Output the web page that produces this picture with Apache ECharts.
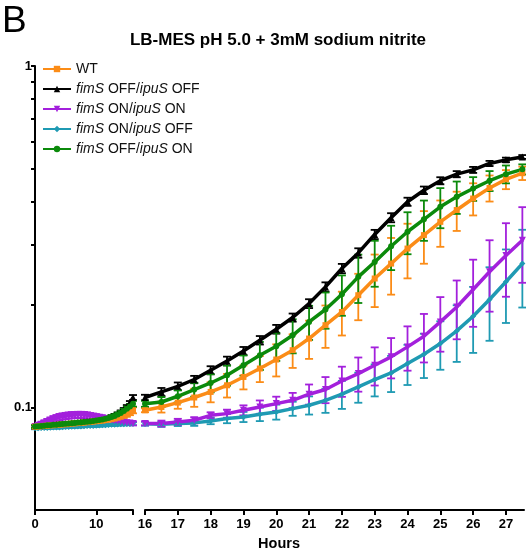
<!DOCTYPE html>
<html>
<head>
<meta charset="utf-8">
<script src="https://cdn.jsdelivr.net/npm/echarts@6/dist/echarts.min.js"></script>
<style>
html, body { margin: 0; padding: 0; background: #fff; }
#chart { width: 526px; height: 551px; }
</style>
</head>
<body>
<div id="chart"></div>
<script>
// growth curves, OD600 on a log axis; x axis broken at 16 h
var earlyHours = [0, 0.5, 1, 1.5, 2, 2.5, 3, 3.5, 4, 4.5, 5, 5.5, 6, 6.5, 7, 7.5, 8, 8.5, 9, 9.5,
    10, 10.5, 11, 11.5, 12, 12.5, 13, 13.5, 14, 14.5, 15, 15.5, 16];
var lateHours = [16, 16.5, 17, 17.5, 18, 18.5, 19, 19.5, 20, 20.5, 21, 21.5, 22, 22.5, 23, 23.5,
    24, 24.5, 25, 25.5, 26, 26.5, 27, 27.5];

var names = ['WT', 'fimS OFF/ipuS OFF', 'fimS ON/ipuS ON', 'fimS ON/ipuS OFF', 'fimS OFF/ipuS ON'];

// WT
var wtEarly = [0.0877, 0.0878, 0.088, 0.0882, 0.0883, 0.0885, 0.0886, 0.0888, 0.0889, 0.0891, 0.0892,
    0.0894, 0.0896, 0.0897, 0.0899, 0.09, 0.0902, 0.0904, 0.0906, 0.0908, 0.091, 0.0912, 0.0914,
    0.0917, 0.092, 0.0923, 0.0927, 0.0932, 0.0938, 0.0945, 0.0954, 0.0966, 0.098];
var wtEarlySd = [0.0008, 0.0008, 0.0008, 0.0008, 0.0008, 0.0008, 0.0008, 0.0008, 0.0008, 0.0008, 0.0008,
    0.0008, 0.0008, 0.0008, 0.0008, 0.0008, 0.0008, 0.0008, 0.0008, 0.0008, 0.0008, 0.0008, 0.0008,
    0.0009, 0.001, 0.001, 0.0011, 0.0012, 0.0013, 0.0014, 0.0016, 0.0018, 0.002];
var wtLate = [0.098, 0.1002, 0.1032, 0.1068, 0.1109, 0.116, 0.1227, 0.1299, 0.138, 0.147, 0.159, 0.174,
    0.1902, 0.213, 0.2384, 0.2636, 0.2918, 0.3195, 0.3494, 0.3784, 0.409, 0.4392, 0.4655, 0.4852];
var wtLateSd = [0.0013, 0.0037, 0.0042, 0.0065, 0.0075, 0.0092, 0.0099, 0.0114, 0.0149, 0.0166, 0.0204,
    0.0247, 0.0279, 0.0331, 0.0418, 0.0498, 0.0532, 0.0561, 0.0542, 0.0498, 0.0442, 0.0385, 0.0299, 0.0219];

// fimS OFF / ipuS OFF
var offOffEarly = [0.0878, 0.088, 0.0881, 0.0883, 0.0885, 0.0887, 0.0888, 0.089, 0.0892, 0.0894, 0.0895,
    0.0897, 0.0899, 0.0901, 0.0903, 0.0905, 0.0907, 0.0909, 0.0911, 0.0914, 0.0917, 0.092, 0.0923,
    0.0927, 0.0932, 0.0938, 0.0946, 0.0956, 0.0968, 0.0983, 0.1002, 0.1028, 0.1068];
var offOffEarlySd = [0.0007, 0.0007, 0.0007, 0.0007, 0.0007, 0.0007, 0.0007, 0.0007, 0.0007, 0.0007, 0.0007,
    0.0007, 0.0007, 0.0007, 0.0007, 0.0007, 0.0007, 0.0007, 0.0007, 0.0007, 0.0007, 0.0008, 0.0008,
    0.0008, 0.0009, 0.0009, 0.001, 0.001, 0.0011, 0.0012, 0.0013, 0.0015, 0.0018];
var offOffLate = [0.1068, 0.1109, 0.1152, 0.1206, 0.1284, 0.1367, 0.1462, 0.1572, 0.1693, 0.1832, 0.2013,
    0.2253, 0.2551, 0.2833, 0.321, 0.3594, 0.4002, 0.4324, 0.4611, 0.482, 0.4962, 0.5182, 0.5309, 0.5413];
var offOffLateSd = [0.002, 0.003, 0.003, 0.003, 0.0035, 0.004, 0.004, 0.0045, 0.005, 0.005, 0.006, 0.007,
    0.008, 0.009, 0.01, 0.011, 0.011, 0.011, 0.011, 0.01, 0.01, 0.009, 0.008, 0.007];

// fimS ON / ipuS ON
var onOnEarly = [0.0879, 0.0885, 0.0892, 0.09, 0.0908, 0.0916, 0.0924, 0.093, 0.0936, 0.094, 0.0943,
    0.0946, 0.0948, 0.0949, 0.095, 0.095, 0.0949, 0.0947, 0.0944, 0.0941, 0.0938, 0.0935, 0.0931,
    0.0927, 0.0923, 0.0919, 0.0915, 0.0911, 0.0907, 0.0904, 0.0901, 0.0899, 0.0897];
var onOnEarlySd = [0.0008, 0.001, 0.0012, 0.0014, 0.0016, 0.0017, 0.0018, 0.0019, 0.002, 0.002, 0.002,
    0.002, 0.002, 0.002, 0.002, 0.002, 0.002, 0.0019, 0.0018, 0.0017, 0.0016, 0.0015, 0.0014,
    0.0013, 0.0012, 0.0011, 0.001, 0.001, 0.001, 0.001, 0.001, 0.001, 0.0012];
var onOnLate = [0.0897, 0.0896, 0.0906, 0.0916, 0.0947, 0.0958, 0.098, 0.1002, 0.1025, 0.1048, 0.1092,
    0.1127, 0.1194, 0.1255, 0.1328, 0.1405, 0.1503, 0.1615, 0.1779, 0.1967, 0.2214, 0.2496, 0.2785, 0.3087];
var onOnLateSd = [0.0012, 0.0018, 0.0019, 0.0019, 0.0019, 0.0026, 0.0033, 0.0045, 0.0049, 0.0054, 0.0074,
    0.0099, 0.0121, 0.0144, 0.017, 0.019, 0.0223, 0.0262, 0.0324, 0.0385, 0.0493, 0.059, 0.0677, 0.0771];

// fimS ON / ipuS OFF
var onOffEarly = [0.0868, 0.0868, 0.0869, 0.0869, 0.087, 0.0871, 0.0872, 0.0873, 0.0873, 0.0874, 0.0875,
    0.0876, 0.0877, 0.0877, 0.0878, 0.0879, 0.088, 0.0881, 0.0882, 0.0882, 0.0883, 0.0884, 0.0885,
    0.0886, 0.0887, 0.0888, 0.0889, 0.089, 0.0891, 0.0892, 0.0893, 0.0894, 0.0895];
var onOffEarlySd = [0.0006, 0.0006, 0.0006, 0.0006, 0.0006, 0.0006, 0.0006, 0.0006, 0.0006, 0.0006, 0.0006,
    0.0006, 0.0006, 0.0006, 0.0006, 0.0006, 0.0006, 0.0006, 0.0006, 0.0006, 0.0006, 0.0006, 0.0006,
    0.0006, 0.0006, 0.0006, 0.0006, 0.0006, 0.0006, 0.0007, 0.0007, 0.0008, 0.0009];
var onOffLate = [0.0895, 0.0891, 0.0896, 0.09, 0.0912, 0.0927, 0.0937, 0.0954, 0.0969, 0.0991, 0.1014,
    0.1048, 0.1092, 0.1147, 0.1206, 0.1261, 0.1343, 0.143, 0.1537, 0.1674, 0.1848, 0.2069, 0.2333, 0.2636];
var onOffLateSd = [0.0012, 0.0015, 0.0015, 0.0018, 0.002, 0.0029, 0.0032, 0.0043, 0.0049, 0.0047, 0.0062,
    0.0085, 0.0103, 0.0116, 0.013, 0.0153, 0.0181, 0.0212, 0.0249, 0.0316, 0.0405, 0.0503, 0.0567, 0.0676];

// fimS OFF / ipuS ON
var offOnEarly = [0.0878, 0.088, 0.0881, 0.0883, 0.0885, 0.0886, 0.0888, 0.0889, 0.0891, 0.0893, 0.0895,
    0.0896, 0.0898, 0.09, 0.0902, 0.0903, 0.0905, 0.0907, 0.0909, 0.0912, 0.0915, 0.0918, 0.0921,
    0.0925, 0.093, 0.0936, 0.0943, 0.0952, 0.0962, 0.0975, 0.099, 0.1006, 0.1024];
var offOnEarlySd = [0.0008, 0.0008, 0.0008, 0.0008, 0.0008, 0.0008, 0.0008, 0.0008, 0.0008, 0.0008, 0.0008,
    0.0008, 0.0008, 0.0008, 0.0008, 0.0008, 0.0008, 0.0008, 0.0008, 0.0008, 0.0008, 0.0009, 0.0009,
    0.001, 0.001, 0.0011, 0.0011, 0.0012, 0.0013, 0.0014, 0.0015, 0.0017, 0.002];
var offOnLate = [0.1024, 0.1036, 0.1077, 0.1127, 0.1178, 0.1241, 0.1328, 0.142, 0.151, 0.1625, 0.1779,
    0.1934, 0.2144, 0.2411, 0.2665, 0.2963, 0.3268, 0.3554, 0.3867, 0.4136, 0.4374, 0.4611, 0.482, 0.498];
var offOnLateSd = [0.0021, 0.0035, 0.0044, 0.0053, 0.0072, 0.0084, 0.009, 0.0134, 0.0143, 0.0186, 0.0204,
    0.0235, 0.029, 0.039, 0.041, 0.044, 0.046, 0.048, 0.052, 0.045, 0.035, 0.031, 0.029, 0.017];

var yTicks = [0.1, 0.2, 0.3, 0.4, 0.5, 0.6, 0.7, 0.8, 0.9, 1];
var yLabels = [0.1, 1];
var earlyTicks = [0, 10, 16];
var earlyLabels = [0, 10];
var lateTicks = [16, 17, 18, 19, 20, 21, 22, 23, 24, 25, 26, 27];

var font = '"Liberation Sans", Arial, sans-serif';

// drawing order (bottom first); legend order comes from names
var strains = [
    {name: names[1], color: '#000000', symbol: 'triangle', size: 7, rotate: 0,
        early: offOffEarly, earlySd: offOffEarlySd, late: offOffLate, lateSd: offOffLateSd},
    {name: names[3], color: '#1f9ab3', symbol: 'diamond', size: 6, rotate: 0,
        early: onOffEarly, earlySd: onOffEarlySd, late: onOffLate, lateSd: onOffLateSd},
    {name: names[2], color: '#a320dc', symbol: 'triangle', size: 7, rotate: 180,
        early: onOnEarly, earlySd: onOnEarlySd, late: onOnLate, lateSd: onOnLateSd},
    {name: names[0], color: '#fb8c17', symbol: 'rect', size: 6, rotate: 0,
        early: wtEarly, earlySd: wtEarlySd, late: wtLate, lateSd: wtLateSd},
    {name: names[4], color: '#0b8a0b', symbol: 'circle', size: 6, rotate: 0,
        early: offOnEarly, earlySd: offOnEarlySd, late: offOnLate, lateSd: offOnLateSd}
];

function lineSeries(s, idx, hours, vals) {
    return {
        name: s.name, type: 'line', xAxisIndex: idx, yAxisIndex: idx,
        data: hours.map(function (h, i) { return [h, vals[i]]; }),
        symbol: s.symbol, symbolSize: s.size, symbolRotate: s.rotate, showAllSymbol: true,
        clip: false, animation: false,
        lineStyle: {width: 3.5, color: s.color},
        itemStyle: {color: s.color}
    };
}

function errSeries(s, idx, hours, vals, sds) {
    return {
        type: 'custom', xAxisIndex: idx, yAxisIndex: idx, silent: true, animation: false,
        encode: {x: 0, y: 1},
        data: hours.map(function (h, i) { return [h, vals[i], sds[i]]; }),
        renderItem: function (params, api) {
            var x = api.value(0), y = api.value(1), e = api.value(2);
            var hi = api.coord([x, y + e]);
            var lo = api.coord([x, y - e]);
            var w = 4;
            var st = {stroke: s.color, lineWidth: 1.8};
            return {
                type: 'group', children: [
                    {type: 'line', shape: {x1: hi[0], y1: hi[1], x2: lo[0], y2: lo[1]}, style: st},
                    {type: 'line', shape: {x1: hi[0] - w, y1: hi[1], x2: hi[0] + w, y2: hi[1]}, style: st},
                    {type: 'line', shape: {x1: lo[0] - w, y1: lo[1], x2: lo[0] + w, y2: lo[1]}, style: st}
                ]
            };
        }
    };
}

var series = [];
strains.forEach(function (s) {
    series.push(errSeries(s, 0, earlyHours, s.early, s.earlySd));
    series.push(lineSeries(s, 0, earlyHours, s.early));
    series.push(errSeries(s, 1, lateHours, s.late, s.lateSd));
    series.push(lineSeries(s, 1, lateHours, s.late));
});

var axisLine = {show: true, onZero: false, lineStyle: {color: '#000', width: 2}};
var tickStyle = {color: '#000', width: 2};
var labelStyle = {color: '#000', fontWeight: 'bold', fontSize: 13, fontFamily: font};

var myChart = echarts.init(document.getElementById('chart'));
var option = {
    animation: false,
    grid: [
        {left: 35, top: 66, width: 98, height: 444},
        {left: 145, top: 66, width: 379, height: 444}
    ],
    xAxis: [
        {type: 'value', gridIndex: 0, min: 0, max: 16, splitLine: {show: false},
            axisLine: axisLine,
            axisTick: {length: 5, lineStyle: tickStyle, customValues: earlyTicks},
            axisLabel: Object.assign({margin: 8, customValues: earlyLabels}, labelStyle)},
        {type: 'value', gridIndex: 1, min: 16, max: 27.55, splitLine: {show: false},
            axisLine: axisLine,
            axisTick: {length: 5, lineStyle: tickStyle, customValues: lateTicks},
            axisLabel: Object.assign({margin: 8, customValues: lateTicks}, labelStyle)}
    ],
    yAxis: [
        {type: 'log', gridIndex: 0, min: 0.05, max: 1, splitLine: {show: false},
            axisLine: axisLine,
            axisTick: {length: 4, lineStyle: tickStyle, customValues: yTicks},
            axisLabel: Object.assign({margin: 3, customValues: yLabels,
                formatter: function (v) { return v >= 1 ? '1' : '0.1'; }}, labelStyle)},
        {type: 'log', gridIndex: 1, min: 0.05, max: 1, show: false, splitLine: {show: false}}
    ],
    legend: {
        data: names, orient: 'vertical', left: 42, top: 62, padding: 0,
        itemWidth: 28, itemHeight: 8, itemGap: 6,
        textStyle: {fontSize: 14, lineHeight: 14, fontFamily: font, color: '#111',
            rich: {i: {fontStyle: 'italic', fontSize: 14, lineHeight: 14, fontFamily: font, color: '#111'}}},
        formatter: function (n) { return n.replace(/(fimS|ipuS)/g, '{i|$1}'); }
    },
    graphic: [
        {type: 'text', left: 2, top: 3,
            style: {text: 'B', font: '37px ' + font, fill: '#000'}},
        {type: 'text', x: 278, y: 40,
            style: {text: 'LB-MES pH 5.0 + 3mM sodium nitrite', font: 'bold 17px ' + font,
                fill: '#000', align: 'center', verticalAlign: 'middle'}},
        {type: 'text', x: 279, y: 544,
            style: {text: 'Hours', font: 'bold 14.5px ' + font, fill: '#000',
                align: 'center', verticalAlign: 'middle'}}
    ],
    series: series
};
myChart.setOption(option);
</script>
</body>
</html>
